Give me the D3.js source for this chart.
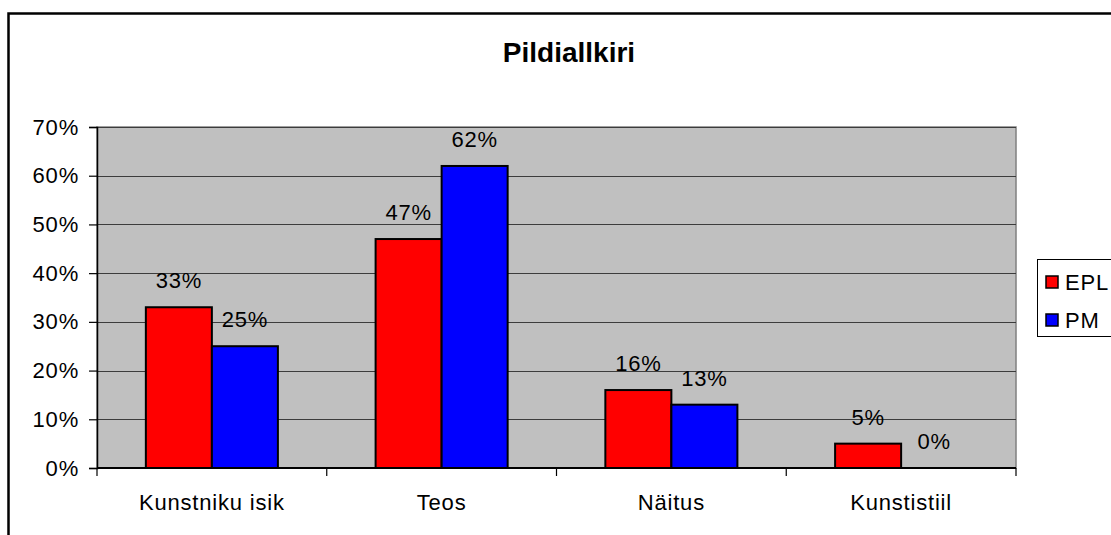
<!DOCTYPE html>
<html>
<head>
<meta charset="utf-8">
<script src="https://cdn.jsdelivr.net/npm/d3@7"></script>
<style>
  body { margin: 0; background: #fff; }
  text { font-family: "Liberation Sans", Arial, sans-serif; fill: #000; }
  .lbl { font-size: 22px; letter-spacing: 0.8px; }
</style>
</head>
<body>
<div id="vis1"></div>
<script>
// data
const CATEGORIES = ["Kunstniku isik", "Teos", "Näitus", "Kunstistiil"];
const SERIES = ["EPL", "PM"];
const EPL_VALUES = [33, 47, 16, 5];
const PM_VALUES = [25, 62, 13, 0];
const Y_TICKS = [0, 10, 20, 30, 40, 50, 60, 70];
const COLORS = ["#FF0000", "#0000FF"];

const FRAME_HEIGHT = 535;
const FRAME_WIDTH = 1111;
const MARGINS = {left: 97, right: 95, top: 127, bottom: 67};

const FRAME1 = d3.select("#vis1")
                  .append("svg")
                    .attr("height", FRAME_HEIGHT)
                    .attr("width", FRAME_WIDTH);

// outer chart border (runs off the right and bottom edge)
FRAME1.append("rect")
  .attr("x", 8.5).attr("y", 13.5)
  .attr("width", 1300).attr("height", 700)
  .attr("fill", "none").attr("stroke", "#000").attr("stroke-width", 2.5);

const X_SCALE = d3.scaleBand()
                  .domain(CATEGORIES)
                  .range([MARGINS.left, FRAME_WIDTH - MARGINS.right]);

const X_INNER = d3.scaleBand()
                  .domain(SERIES)
                  .range([0, X_SCALE.bandwidth()])
                  .paddingOuter(0.74)
                  .paddingInner(0);

const Y_SCALE = d3.scaleLinear()
                  .domain([0, 70])
                  .range([FRAME_HEIGHT - MARGINS.bottom, MARGINS.top]);

const plotLeft = X_SCALE.range()[0], plotRight = X_SCALE.range()[1];

// gray plot area
FRAME1.append("rect")
  .attr("x", plotLeft).attr("y", Y_SCALE(70))
  .attr("width", plotRight - plotLeft)
  .attr("height", Y_SCALE(0) - Y_SCALE(70))
  .attr("fill", "#C0C0C0")
  .attr("stroke", "#808080").attr("stroke-width", 1.5);

// gridlines
FRAME1.append("g")
  .selectAll("line")
  .data(Y_TICKS.filter(d => d > 0))
  .enter()
  .append("line")
    .attr("x1", plotLeft).attr("x2", plotRight)
    .attr("y1", d => Math.round(Y_SCALE(d)) + 0.5)
    .attr("y2", d => Math.round(Y_SCALE(d)) + 0.5)
    .attr("stroke", "#3c3c3c").attr("stroke-width", 1.2);

// bars
const rows = CATEGORIES.map((c, i) => ({cat: c, vals: [EPL_VALUES[i], PM_VALUES[i]]}));

const groups = FRAME1.selectAll(".grp")
  .data(rows)
  .enter()
  .append("g")
    .attr("transform", d => "translate(" + X_SCALE(d.cat) + ",0)");

groups.selectAll("rect")
  .data(d => d.vals.map((v, j) => ({key: SERIES[j], v: v, j: j})).filter(e => e.v > 0))
  .enter()
  .append("rect")
    .attr("x", d => X_INNER(d.key))
    .attr("y", d => Y_SCALE(d.v))
    .attr("width", X_INNER.bandwidth())
    .attr("height", d => Y_SCALE(0) - Y_SCALE(d.v))
    .attr("fill", d => COLORS[d.j])
    .attr("stroke", "#000").attr("stroke-width", 2);

// value labels
groups.selectAll("text")
  .data(d => d.vals.map((v, j) => ({key: SERIES[j], v: v})))
  .enter()
  .append("text")
    .attr("class", "lbl")
    .attr("x", d => X_INNER(d.key) + X_INNER.bandwidth() / 2)
    .attr("y", d => Y_SCALE(d.v) - 19)
    .attr("text-anchor", "middle")
    .text(d => d.v + "%");

// y axis
const yAxis = FRAME1.append("g")
  .attr("transform", "translate(" + plotLeft + ",0)")
  .call(d3.axisLeft(Y_SCALE).tickValues(Y_TICKS).tickSize(8).tickPadding(10)
          .tickFormat(d => d + "%"));
yAxis.attr("font-size", null).attr("font-family", null);
yAxis.selectAll("text").attr("class", "lbl").attr("fill", "#000");
yAxis.select(".domain").attr("stroke", "#000").attr("stroke-width", 1.5);
yAxis.selectAll(".tick line").attr("stroke", "#000").attr("stroke-width", 1.2);

// x axis with ticks at category boundaries
const xAxisG = FRAME1.append("g");
xAxisG.append("line")
  .attr("x1", plotLeft).attr("x2", plotRight)
  .attr("y1", Y_SCALE(0)).attr("y2", Y_SCALE(0))
  .attr("stroke", "#000").attr("stroke-width", 2);
xAxisG.selectAll(".bt")
  .data(CATEGORIES.map(c => X_SCALE(c)).concat([plotRight]))
  .enter()
  .append("line")
    .attr("x1", d => d).attr("x2", d => d)
    .attr("y1", Y_SCALE(0)).attr("y2", Y_SCALE(0) + 8)
    .attr("stroke", "#000").attr("stroke-width", 1.2);
xAxisG.selectAll("text")
  .data(CATEGORIES)
  .enter()
  .append("text")
    .attr("class", "lbl")
    .attr("x", d => X_SCALE(d) + X_SCALE.bandwidth() / 2)
    .attr("y", 510)
    .attr("text-anchor", "middle")
    .text(d => d);

// title
FRAME1.append("text")
  .attr("x", 569).attr("y", 62)
  .attr("text-anchor", "middle")
  .attr("font-size", "28px").attr("font-weight", "bold")
  .text("Pildiallkiri");

// legend
const legend = FRAME1.append("g").attr("transform", "translate(1037,259)");
legend.append("rect")
  .attr("x", 0.5).attr("y", 0.5).attr("width", 120).attr("height", 77)
  .attr("fill", "#fff").attr("stroke", "#000").attr("stroke-width", 1);
const items = legend.selectAll(".li")
  .data(SERIES)
  .enter()
  .append("g")
    .attr("transform", (d, i) => "translate(0," + (i * 38) + ")");
items.append("rect")
  .attr("x", 9).attr("y", 17).attr("width", 12).attr("height", 12)
  .attr("fill", (d, i) => COLORS[i]).attr("stroke", "#000").attr("stroke-width", 1.5);
items.append("text")
  .attr("class", "lbl")
  .attr("x", 28).attr("y", 31)
  .text(d => d);
</script>
</body>
</html>
